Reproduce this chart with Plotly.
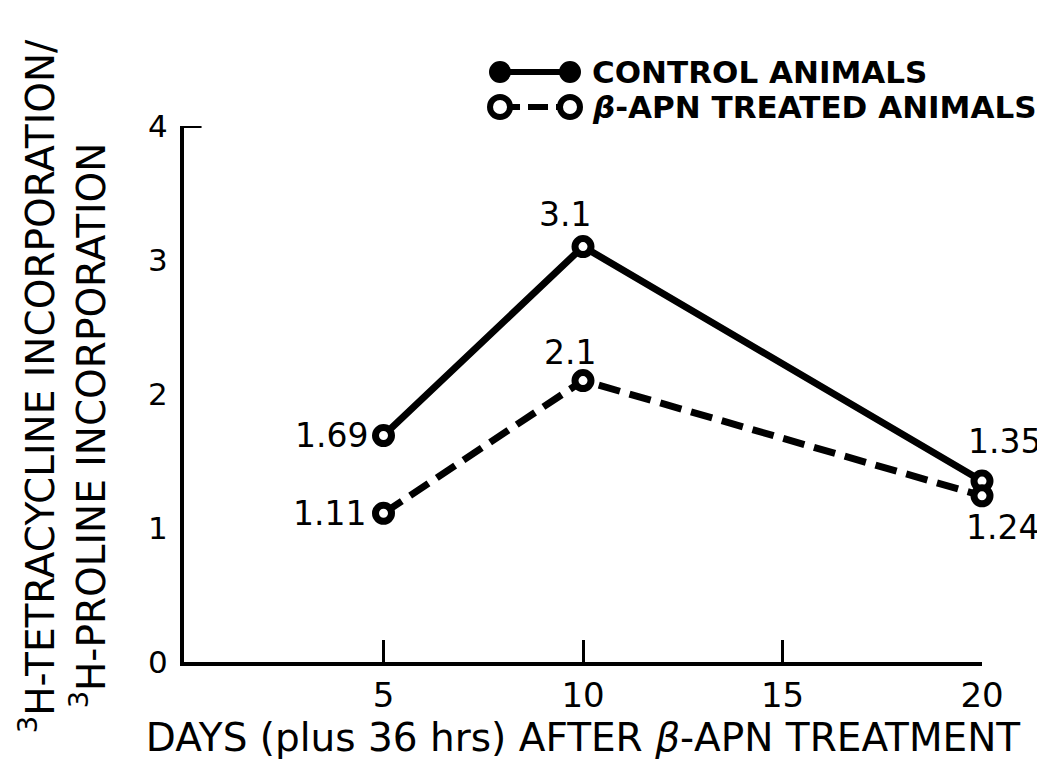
import plotly.graph_objects as go

days = [5, 10, 20]
control = [1.69, 3.1, 1.35]
treated = [1.11, 2.1, 1.24]
control_labels = ["1.69", "3.1", "1.35"]
treated_labels = ["1.11", "2.1", "1.24"]
x_ticks = [5, 10, 15, 20]
y_ticks = [0, 1, 2, 3, 4]
legend_names = ["CONTROL ANIMALS", "<i>β</i>-APN TREATED ANIMALS"]

FONT = "DejaVu Sans"
INK = "black"

fig = go.Figure()

# plotted series: open circles with heavy outline
fig.add_trace(go.Scatter(
    x=days, y=control, mode="lines+markers",
    line=dict(color=INK, width=7),
    marker=dict(symbol="circle", size=16, color="white", line=dict(color=INK, width=7)),
    cliponaxis=False, showlegend=False,
))
fig.add_trace(go.Scatter(
    x=days, y=treated, mode="lines+markers",
    line=dict(color=INK, width=7, dash="22px,10px"),
    marker=dict(symbol="circle", size=16, color="white", line=dict(color=INK, width=7)),
    cliponaxis=False, showlegend=False,
))

# value labels beside each point
label_font = dict(family=FONT, size=33, color=INK)
control_offsets = [(-14, 0, "right"), (-18, 32, "center"), (22, 40, "center")]
treated_offsets = [(-16, 0, "right"), (-13, 28, "center"), (20, -32, "center")]
for xs, ys, labels, offsets in [(days, control, control_labels, control_offsets),
                                (days, treated, treated_labels, treated_offsets)]:
    for xv, yv, lab, (dx, dy, anchor) in zip(xs, ys, labels, offsets):
        fig.add_annotation(x=xv, y=yv, text=lab, showarrow=False, font=label_font,
                           xanchor=anchor, yanchor="middle", xshift=dx, yshift=dy)

# two-line y title, drawn as rotated annotations
y_title_lines = ["<sup>3</sup>H-TETRACYCLINE INCORPORATION/", "<sup>3</sup>H-PROLINE INCORPORATION"]
for text, xp, yp in zip(y_title_lines, [-0.184, -0.12], [0.515, 0.442]):
    fig.add_annotation(xref="paper", yref="paper", x=xp, y=yp, text=text, textangle=-90,
                       showarrow=False, xanchor="center", yanchor="middle",
                       font=dict(family=FONT, size=39, color=INK))

# hand-drawn key: a short line with a circle at each end, then the name
key_x0, key_x1, key_text_x = 0.396, 0.4837, 0.5088
key_rows = [1.1007, 1.0354]
key_dash = ["solid", "20px,8px"]
key_fill = [INK, "white"]
for name, yk, dash, fill in zip(legend_names, key_rows, key_dash, key_fill):
    fig.add_shape(type="line", xref="paper", yref="paper", x0=key_x0, x1=key_x1,
                  y0=yk, y1=yk, line=dict(color=INK, width=6, dash=dash))
    for xc in (key_x0, key_x1):
        fig.add_shape(type="circle", xref="paper", yref="paper",
                      xsizemode="pixel", ysizemode="pixel", xanchor=xc, yanchor=yk,
                      x0=-10, x1=10, y0=-10, y1=10,
                      fillcolor=fill, line=dict(color=INK, width=6 if fill == "white" else 2))
    fig.add_annotation(xref="paper", yref="paper", x=key_text_x, y=yk, text=name,
                       showarrow=False, xanchor="left", yanchor="middle",
                       font=dict(family=FONT, size=31, color=INK, weight="bold"))

# small corner tick at the top of the y axis
fig.add_shape(type="line", xref="x domain", yref="y", x0=0, x1=0.022, y0=4, y1=4,
              line=dict(color=INK, width=4))

fig.update_layout(
    width=1037, height=763,
    margin=dict(l=176, r=63, t=118, b=109, autoexpand=False),
    paper_bgcolor="white", plot_bgcolor="white",
    font=dict(family=FONT, color=INK),
    showlegend=False,
)
fig.update_xaxes(
    range=[0, 20], tickvals=x_ticks, ticks="inside", ticklen=22, tickwidth=3,
    tickcolor=INK, showline=True, linewidth=4, linecolor=INK, showgrid=False,
    zeroline=False, tickfont=dict(family=FONT, size=34, color=INK),
    ticklabelstandoff=0, automargin=False,
    title=dict(text="DAYS (plus 36 hrs) AFTER <i>β</i>-APN TREATMENT",
               font=dict(family=FONT, size=39, color=INK), standoff=0),
)
fig.update_yaxes(
    range=[0, 4], tickvals=y_ticks, ticks="", showline=True, linewidth=4,
    linecolor=INK, showgrid=False, zeroline=False, automargin=False,
    tickfont=dict(family=FONT, size=31, color=INK), ticklabelstandoff=6,
)

fig.write_html("out.html")
